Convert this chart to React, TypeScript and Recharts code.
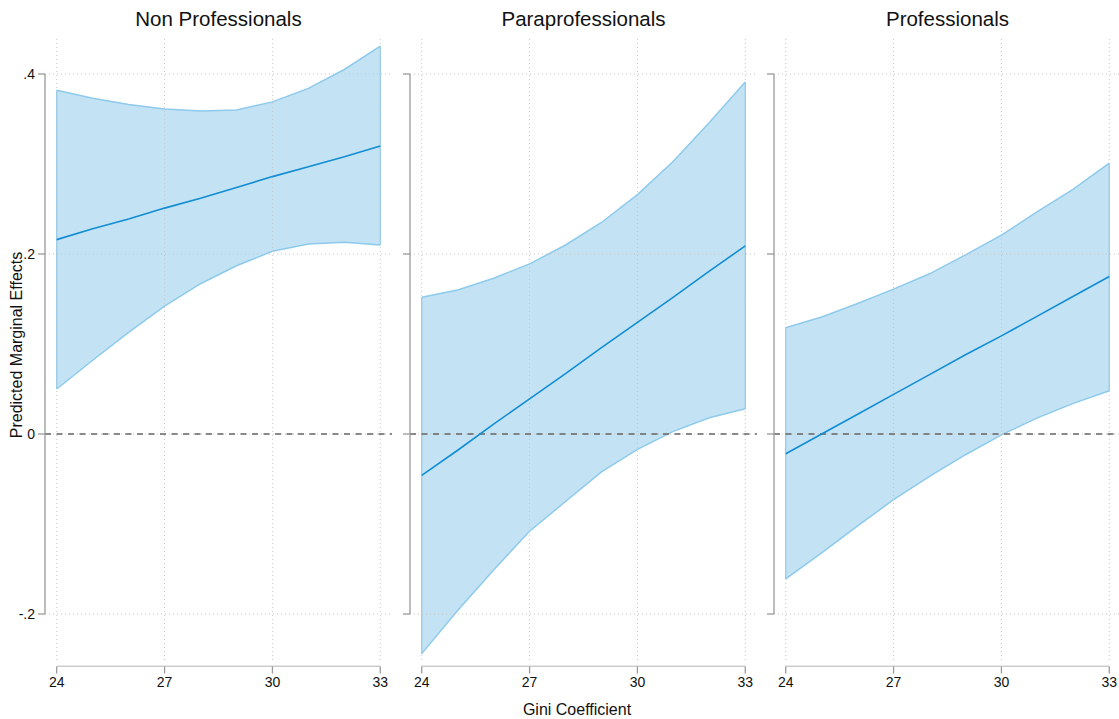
import { ComposedChart, Area, Line, XAxis, YAxis, ReferenceLine } from 'recharts'

const gini = [24, 25, 26, 27, 28, 29, 30, 31, 32, 33]

const nonProfMean = [0.216, 0.228, 0.239, 0.251, 0.262, 0.274, 0.286, 0.297, 0.308, 0.320]
const nonProfLo = [0.050, 0.082, 0.113, 0.142, 0.167, 0.187, 0.203, 0.211, 0.213, 0.210]
const nonProfHi = [0.382, 0.373, 0.366, 0.361, 0.359, 0.360, 0.369, 0.384, 0.405, 0.431]

const paraMean = [-0.046, -0.018, 0.011, 0.039, 0.067, 0.096, 0.124, 0.152, 0.181, 0.209]
const paraLo = [-0.244, -0.196, -0.151, -0.108, -0.075, -0.042, -0.017, 0.003, 0.018, 0.028]
const paraHi = [0.152, 0.160, 0.173, 0.189, 0.210, 0.235, 0.266, 0.303, 0.346, 0.391]

const profMean = [-0.022, 0.000, 0.022, 0.044, 0.066, 0.088, 0.109, 0.131, 0.153, 0.175]
const profLo = [-0.161, -0.132, -0.102, -0.073, -0.047, -0.023, -0.001, 0.018, 0.034, 0.048]
const profHi = [0.118, 0.130, 0.145, 0.161, 0.178, 0.199, 0.221, 0.247, 0.272, 0.301]

const xTicks = [24, 27, 30, 33]
const yTicks = [-0.2, 0, 0.2, 0.4]
const yTickLabels = ['-.2', '0', '.2', '.4']

const X_DOMAIN: [number, number] = [23.674, 33.326]
const Y_DOMAIN: [number, number] = [-0.2583, 0.44]
const GRID_BOTTOM = -0.251

const FONT = '"Liberation Sans", Arial, Helvetica, sans-serif'
const AXIS_GRAY = '#9a9a9a'
const GRID_GRAY = '#c4c4c4'
const LINE_BLUE = '#118dd4'
const BAND_FILL = '#c3e3f4'
const BAND_EDGE = '#8dcaec'

function fmtY(v: number): string {
  const i = yTicks.findIndex((t) => Math.abs(t - v) < 1e-9)
  return i >= 0 ? yTickLabels[i] : String(v)
}

const noLabel = () => <g />

// x axis line only runs from the first to the last tick
const xAxisLineData = [
  { gini: xTicks[0], ax: Y_DOMAIN[0] },
  { gini: xTicks[xTicks.length - 1], ax: Y_DOMAIN[0] },
]

interface PanelProps {
  left: number
  mean: number[]
  lo: number[]
  hi: number[]
  showYLabels: boolean
}

function Panel({ left, mean, lo, hi, showYLabels }: PanelProps) {
  const data = gini.map((g, i) => ({ gini: g, band: [lo[i], hi[i]], mean: mean[i] }))
  const last = gini.length - 1
  return (
    <div style={{ position: 'absolute', left, top: 0 }}>
      <ComposedChart width={392} height={719} data={data} margin={{ top: 38, right: 0, left: 0, bottom: 22.5 }}>
        <XAxis
          dataKey="gini"
          type="number"
          domain={X_DOMAIN}
          ticks={xTicks}
          allowDataOverflow
          axisLine={false}
          tickLine={{ stroke: AXIS_GRAY, strokeWidth: 1.3 }}
          tickSize={7}
          tickMargin={3.5}
          height={30}
          tick={{ fontSize: 14, fill: '#111', fontFamily: FONT }}
        />
        <YAxis
          type="number"
          domain={Y_DOMAIN}
          ticks={yTicks}
          allowDataOverflow
          width={45}
          axisLine={false}
          tickLine={{ stroke: AXIS_GRAY, strokeWidth: 1.3 }}
          tickSize={7}
          tickMargin={3}
          tickFormatter={fmtY}
          tick={showYLabels ? { fontSize: 14, fill: '#111', fontFamily: FONT } : noLabel}
        />
        <Area
          type="linear"
          dataKey="band"
          fill={BAND_FILL}
          fillOpacity={1}
          stroke={BAND_EDGE}
          strokeWidth={1.5}
          dot={false}
          activeDot={false}
          isAnimationActive={false}
        />
        <ReferenceLine segment={[{ x: gini[0], y: lo[0] }, { x: gini[0], y: hi[0] }]} stroke={BAND_EDGE} strokeWidth={1.2} ifOverflow="visible" />
        <ReferenceLine segment={[{ x: gini[last], y: lo[last] }, { x: gini[last], y: hi[last] }]} stroke={BAND_EDGE} strokeWidth={1.2} ifOverflow="visible" />
        {xTicks.map((t) => (
          <ReferenceLine
            key={'vx' + t}
            segment={[{ x: t, y: GRID_BOTTOM }, { x: t, y: Y_DOMAIN[1] }]}
            stroke={GRID_GRAY}
            strokeDasharray="1 3"
            ifOverflow="visible"
          />
        ))}
        {yTicks.map((t) => (
          <ReferenceLine key={'hy' + t} y={t} stroke={GRID_GRAY} strokeDasharray="1 3" ifOverflow="visible" />
        ))}
        <ReferenceLine y={0} stroke="#666" strokeDasharray="6 5.5" strokeWidth={1.3} ifOverflow="visible" />
        <Line type="linear" dataKey="mean" stroke={LINE_BLUE} strokeWidth={1.6} dot={false} activeDot={false} isAnimationActive={false} />
        <ReferenceLine
          segment={[{ x: X_DOMAIN[0], y: yTicks[0] }, { x: X_DOMAIN[0], y: yTicks[yTicks.length - 1] }]}
          stroke={AXIS_GRAY}
          strokeWidth={1.3}
          ifOverflow="visible"
        />
        <Line
          data={xAxisLineData}
          type="linear"
          dataKey="ax"
          stroke={AXIS_GRAY}
          strokeWidth={1.3}
          dot={false}
          activeDot={false}
          isAnimationActive={false}
        />
      </ComposedChart>
    </div>
  )
}

const titles = ['Non Professionals', 'Paraprofessionals', 'Professionals']
const panelLefts = [0, 365, 729]

export default function App() {
  return (
    <div style={{ position: 'absolute', left: 0, top: 0, width: 1119, height: 719, overflow: 'hidden', background: '#fff' }}>
      <Panel left={panelLefts[0]} mean={nonProfMean} lo={nonProfLo} hi={nonProfHi} showYLabels />
      <Panel left={panelLefts[1]} mean={paraMean} lo={paraLo} hi={paraHi} showYLabels={false} />
      <Panel left={panelLefts[2]} mean={profMean} lo={profLo} hi={profHi} showYLabels={false} />
      <svg width={1119} height={719} style={{ position: 'absolute', left: 0, top: 0, pointerEvents: 'none' }}>
        {titles.map((t, i) => (
          <text key={t} x={panelLefts[i] + 45 + 173.5} y={26} textAnchor="middle" fontSize={20.5} fontFamily={FONT} fill="#111">
            {t}
          </text>
        ))}
        <text x={577} y={715} textAnchor="middle" fontSize={16} fontFamily={FONT} fill="#111">
          Gini Coefficient
        </text>
        <text x={22} y={345} textAnchor="middle" fontSize={16} fontFamily={FONT} fill="#111" transform="rotate(-90 22 345)">
          Predicted Marginal Effects
        </text>
      </svg>
    </div>
  )
}
